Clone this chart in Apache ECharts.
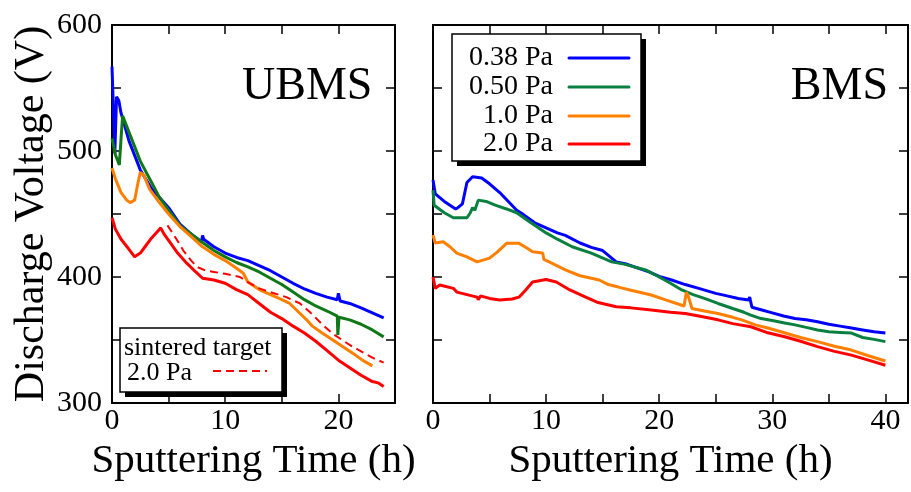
<!DOCTYPE html>
<html><head><meta charset="utf-8">
<script src="https://cdn.jsdelivr.net/npm/echarts@6/dist/echarts.min.js"></script>
<style>html,body{margin:0;padding:0;background:#fff}#c{width:911px;height:492px}</style>
</head><body><div id="c"></div>
<script>
const FONT = '"Liberation Serif","Times New Roman",serif';

// ---- data: [time (h), voltage (V)] ----
const ubms038 = [[0,567],[0.1,540],[0.25,498],[0.4,543],[0.6,540],[0.8,530],[1.5,508],[2.5,485],[3.5,470],[4.2,463],[5,455],[6,442],[7,434],[7.9,428],[8,433],[8.1,430],[9,424],[10,419],[11,415.5],[12,413],[13,409],[14,405],[15,400],[16,395],[17,390.5],[18,387],[19,384],[19.9,382],[20,387],[20.15,381],[21,379],[22,375.5],[23,371.5],[24,367.5]];
const ubms050 = [[0,510],[0.3,497],[0.65,489],[0.8,510],[0.94,528],[1.5,515],[2.5,492],[3.5,475],[4.2,463],[5,453],[6,441],[7,434],[7.75,429],[9,421],[10,416],[11,411.5],[12,408],[13,404],[14,399],[15,394],[16,388],[17,382],[18,377],[19,373],[19.9,369],[19.95,354],[20.05,368],[21,366],[22,362.5],[23,358],[24,352.5]];
const ubms10 = [[0,486.5],[0.3,478],[0.8,467],[1.3,461],[1.6,459],[2,461],[2.3,475],[2.5,483],[2.8,481],[3.3,470],[4.1,460],[5,450],[6,440],[7,432],[8,424],[9,418],[10,413],[11,407],[11.6,403],[12,396],[13,390],[14,386],[15,382],[15.7,379],[16.5,372],[17.2,366],[17.7,361],[18.5,356],[19.5,350],[20.5,344],[21.5,338],[22.3,333],[23,329.5]];
const ubms20 = [[0,447],[0.3,438],[0.8,430],[1.5,422],[2,416],[2.5,419],[3,425],[3.5,431],[4.1,437],[4.3,439],[4.6,434],[5,429],[5.8,419],[6.6,411],[7.4,404],[8,399],[9,397.6],[10,395],[11,390],[12,386],[13,379],[14,372],[15,367],[16,361],[17,355.5],[18,349],[19,341.5],[20,334],[21,328],[22,322],[23,317],[23.5,316],[24,313]];
const ubmsSintered20 = [[4.9,441],[5.7,430],[6.3,421],[7,413],[7.5,408],[8.3,405],[9,404],[10,402.5],[11.3,400],[12,396],[13,391],[14,388],[15.4,384],[16.6,379],[17.5,372],[18.5,363],[19.5,355],[20.5,349],[21.2,345],[22,341],[23,336],[24,332]];

const bms038 = [[0,477],[0.2,466],[1,460],[2,454],[2.2,455],[2.6,458],[3,475],[3.5,479.6],[4.3,478.6],[5,474],[5.9,467],[7.4,453],[8,449.5],[9,443],[10,439],[11,435],[11.7,433],[13,427],[14,423.5],[15,421],[16.2,412],[17,410.5],[18,407.5],[19.1,404],[20,400.5],[21.1,397.6],[22.3,394],[23.5,391],[25,387],[26,385],[27,383],[27.9,381.7],[28,384],[28.2,376],[29,374],[30,371.5],[31,369],[32,367],[33,366],[34,364.5],[35,362.5],[36,361],[37,359.5],[38,358],[39,356.5],[40,355.5]];
const bms050 = [[0,469],[0.1,457],[1,451],[1.8,447],[3,447],[3.3,451],[3.5,455],[3.7,453],[4,461],[4.7,460],[5.5,457],[6.5,454],[7.4,451],[8.5,444],[10,435],[11,430],[12.3,424],[14,419],[15.8,412],[17,410],[18.8,405.6],[20,400],[21,395],[22,389.7],[23,386],[24,383],[25.2,379],[26.5,375],[27.5,372],[28.1,369.8],[29,367],[30,365.5],[31.1,363.5],[32,362],[33,360],[34,358],[35,356.5],[36,356],[37,355.5],[38,352],[39,350.5],[40,348.7]];
const bms10 = [[0,433.3],[0.2,427],[0.9,428],[1.5,424],[2.1,419],[3,416],[3.9,412],[5,415],[5.7,420],[6.5,426.7],[7.6,426.7],[8.3,423],[8.8,420],[9.7,419],[9.8,414],[10.5,411],[11.7,405.6],[13,401],[14.7,397.6],[15.5,394],[16.4,392],[17.5,389.5],[19.3,385.7],[20.5,382],[22.2,377],[22.4,388],[22.6,384],[22.9,375],[24,373],[25.2,371],[26.5,368],[27.3,366],[28.5,362],[29.6,359.5],[31,356],[32.5,352],[34,348.7],[35.5,345],[37,342],[38.5,337.5],[40,333.3]];
const bms20 = [[0,400],[0.2,391],[0.6,393.6],[1.8,391],[2.1,388],[3,386],[3.9,384],[4,382],[4.2,385],[5,383],[5.9,381.7],[7,382.5],[7.6,384],[8.2,389.7],[8.8,396],[10,398],[10.9,396],[12.1,389.7],[13.5,384],[14.5,380],[16.2,376.4],[17.5,375.5],[19.3,373.8],[21,372],[22.3,371],[23.5,369],[25.2,366],[26.5,363],[28.1,360.5],[29.5,356],[31.1,352.6],[32.5,349],[34,344.7],[35.5,341],[37,338],[38.5,334],[40,330]];

// ---- labels ----
const pressureNames = ['0.38 Pa','0.50 Pa','1.0 Pa','2.0 Pa'];
const sinteredLegend = ['sintered target','2.0 Pa'];
const panelTitles = ['UBMS','BMS'];
const xTitle = 'Sputtering Time (h)';
const yTitle = 'Discharge Voltage (V)';
const xMax = [25, 42];
const yMin = 300, yMax = 600;

const colors = ['#0000ff', '#0a8040', '#ff8000', '#ff0000'];
const leftGreen = '#107818';

const grids = [
  {left: 112, top: 25, width: 283, height: 378},
  {left: 433, top: 25, width: 476, height: 378}
];

function xAxes(gi) {
  const base = {
    type: 'value', gridIndex: gi, min: 0, max: xMax[gi], interval: 5,
    axisLine: {show: true, onZero: false, lineStyle: {color: '#000', width: 2}},
    axisTick: {show: true, inside: true, length: 9, lineStyle: {color: '#000', width: 1.5}},
    splitLine: {show: false}
  };
  return [
    Object.assign({}, base, {
      position: 'bottom',
      axisLabel: {show: true, margin: 3, color: '#000', fontFamily: FONT, fontSize: 30,
        formatter: v => (v % 10 === 0 ? String(v) : '')},
      name: xTitle, nameLocation: 'middle', nameGap: 36,
      nameTextStyle: {color: '#000', fontFamily: FONT, fontSize: 41}
    }),
    Object.assign({}, base, {position: 'top', axisLabel: {show: false}})
  ];
}
function yAxes(gi) {
  const base = {
    type: 'value', gridIndex: gi, min: yMin, max: yMax, interval: 50,
    axisLine: {show: true, onZero: false, lineStyle: {color: '#000', width: 2}},
    axisTick: {show: true, inside: true, length: 9, lineStyle: {color: '#000', width: 1.5}},
    splitLine: {show: false}
  };
  const left = Object.assign({}, base, {position: 'left',
    axisLabel: {show: gi === 0, margin: 10, color: '#000', fontFamily: FONT, fontSize: 30,
      formatter: v => (v % 100 === 0 ? String(v) : '')}});
  if (gi === 0) {
    Object.assign(left, {name: yTitle, nameLocation: 'middle', nameGap: 59,
      nameTextStyle: {color: '#000', fontFamily: FONT, fontSize: 42}});
  }
  return [left, Object.assign({}, base, {position: 'right', axisLabel: {show: false}})];
}

const xAxisList = xAxes(0).concat(xAxes(1));   // 0,1 left panel; 2,3 right panel
const yAxisList = yAxes(0).concat(yAxes(1));

function line(data, xi, yi, color, extra) {
  return Object.assign({
    type: 'line', data: data, xAxisIndex: xi, yAxisIndex: yi,
    showSymbol: false, symbol: 'none', smooth: false, silent: true,
    lineStyle: {color: color, width: 3}, z: 3
  }, extra || {});
}

const series = [
  line(ubms038, 0, 0, colors[0]),
  line(ubms050, 0, 0, leftGreen),
  line(ubms10, 0, 0, colors[2]),
  line(ubmsSintered20, 0, 0, colors[3], {lineStyle: {color: colors[3], width: 2, type: [8, 5]}}),
  line(ubms20, 0, 0, colors[3]),
  line(bms038, 2, 2, colors[0]),
  line(bms050, 2, 2, colors[1]),
  line(bms10, 2, 2, colors[2]),
  line(bms20, 2, 2, colors[3])
];

// ---- legends & panel titles (graphic) ----
const graphic = [];
graphic.push({type: 'text', x: 242, y: 87, style: {text: panelTitles[0], font: '46px ' + FONT, fill: '#000', align: 'left', verticalAlign: 'middle'}});
graphic.push({type: 'text', x: 888, y: 87, style: {text: panelTitles[1], font: '46px ' + FONT, fill: '#000', align: 'right', verticalAlign: 'middle'}});

// right legend box
graphic.push({type: 'rect', shape: {x: 457, y: 39, width: 189, height: 127}, style: {fill: '#000'}, z: 10});
graphic.push({type: 'rect', shape: {x: 452, y: 34, width: 189, height: 127}, style: {fill: '#fff', stroke: '#000', lineWidth: 1.5}, z: 11});
const legendRowY = [58, 87, 116, 144];
pressureNames.forEach((n, i) => {
  graphic.push({type: 'text', x: 553, y: legendRowY[i], z: 12,
    style: {text: n, font: '28px ' + FONT, fill: '#000', align: 'right', verticalAlign: 'middle'}});
  graphic.push({type: 'line', z: 12, shape: {x1: 569, y1: legendRowY[i], x2: 629, y2: legendRowY[i]},
    style: {stroke: colors[i], lineWidth: 3, lineCap: 'round'}});
});

// left legend box
graphic.push({type: 'rect', shape: {x: 125, y: 333, width: 162, height: 64}, style: {fill: '#000'}, z: 10});
graphic.push({type: 'rect', shape: {x: 120, y: 328, width: 162, height: 64}, style: {fill: '#fff', stroke: '#000', lineWidth: 1.5}, z: 11});
graphic.push({type: 'text', x: 124, y: 348, z: 12, style: {text: sinteredLegend[0], font: '26px ' + FONT, fill: '#000', align: 'left', verticalAlign: 'middle'}});
graphic.push({type: 'text', x: 127, y: 373, z: 12, style: {text: sinteredLegend[1], font: '26px ' + FONT, fill: '#000', align: 'left', verticalAlign: 'middle'}});
graphic.push({type: 'line', z: 12, shape: {x1: 213, y1: 371, x2: 267, y2: 371}, style: {stroke: colors[3], lineWidth: 2, lineDash: [8, 5]}});

const chart = echarts.init(document.getElementById('c'), null, {renderer: 'canvas'});
chart.setOption({
  animation: false,
  backgroundColor: '#fff',
  textStyle: {fontFamily: FONT},
  grid: grids,
  xAxis: xAxisList,
  yAxis: yAxisList,
  series: series,
  graphic: graphic
});
</script>
</body></html>
